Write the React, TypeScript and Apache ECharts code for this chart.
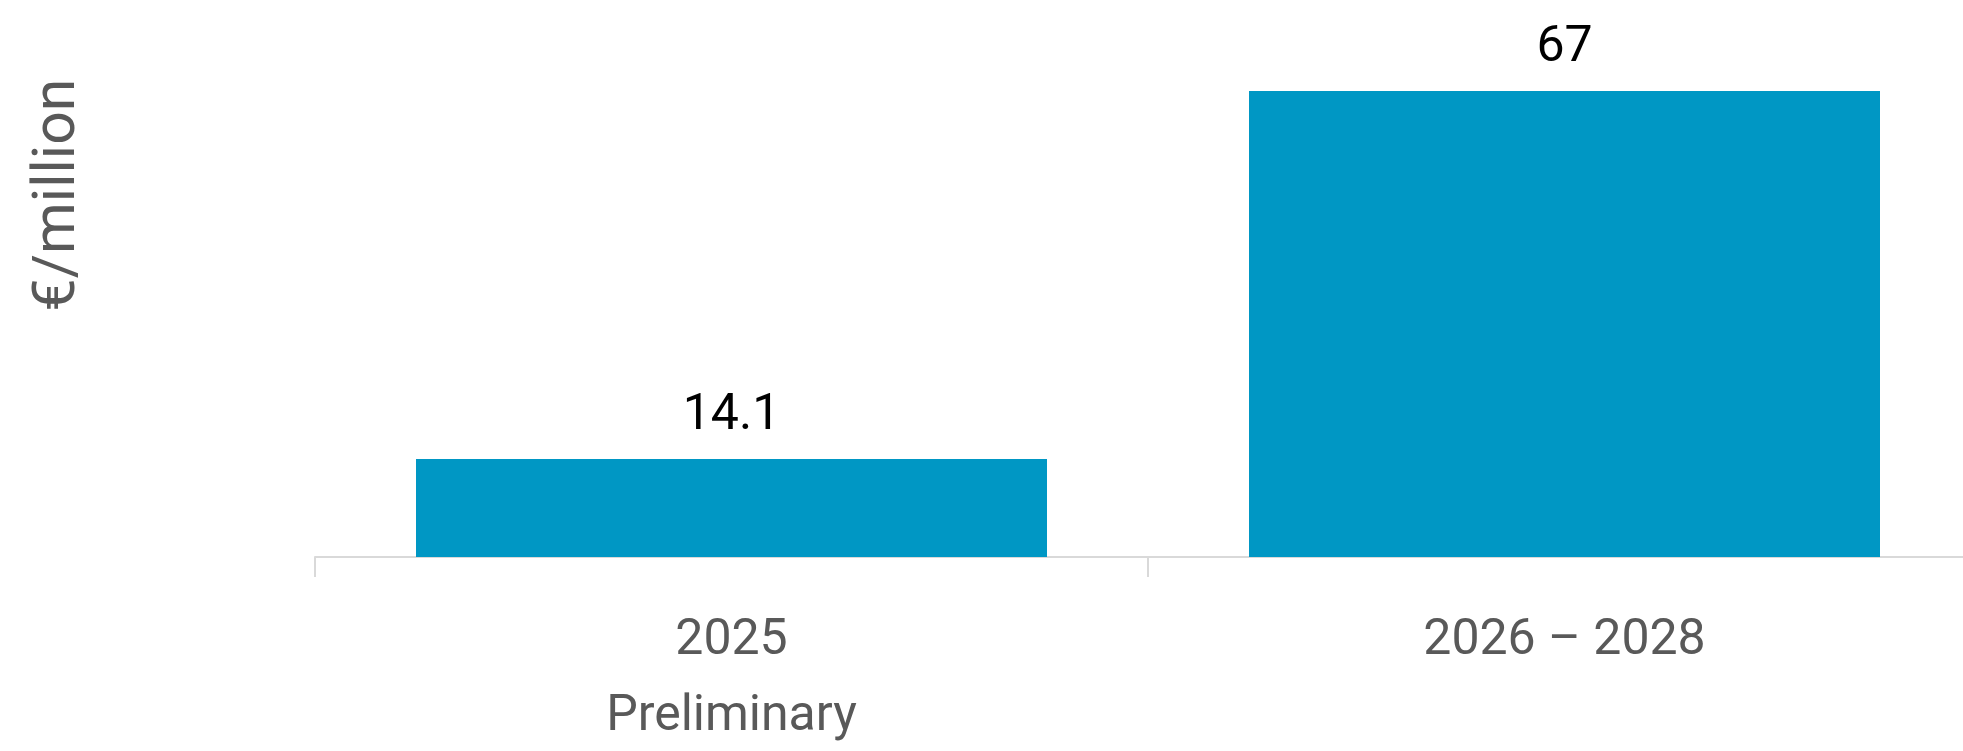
import React, { useEffect, useRef } from "react";
import * as echarts from "echarts";

const categories: string[] = ["2025\nPreliminary", "2026 – 2028"];
const values: number[] = [14.1, 67];
const yAxisTitle = "€/million";

export default function App() {
  const ref = useRef<HTMLDivElement>(null);
  useEffect(() => {
    if (!ref.current) return;
    const chart = echarts.init(ref.current, null, { renderer: "svg" });
    chart.setOption({
      animation: false,
      textStyle: { fontFamily: "Roboto" },
      grid: { left: 315, top: 91, width: 1666, height: 469, containLabel: false },
      xAxis: {
        type: "category",
        data: categories,
        boundaryGap: true,
        axisLine: { show: true, lineStyle: { color: "#d9d9d9", width: 2 } },
        axisTick: { show: true, length: 20, lineStyle: { color: "#d9d9d9", width: 2 } },
        axisLabel: {
          color: "#595959",
          fontSize: 50,
          lineHeight: 76,
          margin: 42,
          fontFamily: "Roboto",
        },
      },
      yAxis: {
        type: "value",
        min: 0,
        max: 67,
        show: false,
        splitLine: { show: false },
      },
      graphic: [
        {
          type: "text",
          x: 53,
          y: 195,
          rotation: Math.PI / 2,
          style: {
            text: yAxisTitle,
            fontSize: 59,
            fontFamily: "Roboto",
            fill: "#595959",
            align: "center",
            verticalAlign: "middle",
          },
        },
      ],
      series: [
        {
          type: "bar",
          data: values,
          barWidth: 631,
          itemStyle: { color: "#0097c4" },
          label: {
            show: true,
            position: "top",
            distance: 22,
            color: "#000000",
            fontSize: 50,
            fontFamily: "Roboto",
          },
        },
      ],
    });
    return () => chart.dispose();
  }, []);
  return (
    <div
      style={{
        position: "fixed",
        left: 0,
        top: 0,
        width: 1963,
        height: 751,
        overflow: "hidden",
        background: "#fff",
      }}
    >
      <div ref={ref} style={{ width: 2000, height: 751 }} />
    </div>
  );
}
